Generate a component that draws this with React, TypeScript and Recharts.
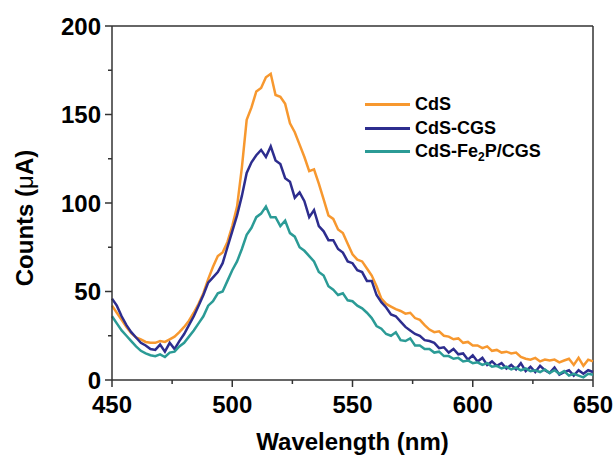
import React from 'react';
import { LineChart, Line, XAxis, YAxis, ReferenceLine, Legend } from 'recharts';

const wavelengths = [
  450, 452, 454, 456, 458, 460, 462, 464, 466, 468, 470, 472, 474, 476, 478, 480, 482, 484, 486, 488,
  490, 492, 494, 496, 498, 500, 502, 504, 506, 508, 510, 512, 514, 516, 518, 520, 522, 524, 526, 528,
  530, 532, 534, 536, 538, 540, 542, 544, 546, 548, 550, 552, 554, 556, 558, 560, 562, 564, 566, 568,
  570, 572, 574, 576, 578, 580, 582, 584, 586, 588, 590, 592, 594, 596, 598, 600, 602, 604, 606, 608,
  610, 612, 614, 616, 618, 620, 622, 624, 626, 628, 630, 632, 634, 636, 638, 640, 642, 644, 646, 648,
  650,
];

const cds = [
  42, 38, 34, 30, 26.5, 24, 23, 21.5, 21, 21, 22, 21.5, 23, 24.5, 27, 30, 33.5, 38, 43, 49,
  57, 64, 70, 72, 78, 87, 98, 120, 147, 154, 163, 165, 171, 173, 161, 160, 156, 145, 140, 133,
  126, 118, 119, 111, 102, 93, 91, 85, 83, 77, 71, 68, 67, 63, 59, 53, 46, 43, 41.5, 40,
  39, 37.5, 38, 35, 34, 31, 28.5, 27, 27.5, 25, 24.5, 23, 23.5, 21, 21.5, 19.5, 19.5, 18, 19, 16.5,
  17, 15.5, 16, 15, 15.5, 13, 12, 11.5, 12.5, 10.5, 11.5, 11, 11.5, 10, 11, 12, 8.5, 12.5, 8, 11.5,
  10.5,
];

const cdsCgs = [
  46, 42, 36, 31, 27, 24, 21, 19.5, 17.5, 17, 20, 16, 21, 17.5, 22, 26, 31, 36, 42, 48,
  55, 58, 61, 66, 75, 84, 93, 104, 117, 123, 127, 130, 126, 132, 124, 122, 114, 112, 103, 106,
  101, 92, 96, 87, 84, 79, 79, 74, 72, 67, 66, 62, 61, 56, 56, 48, 44, 41, 37, 36,
  33, 30, 28, 26, 25, 22.5, 22, 21, 18, 18.5, 15.5, 17.5, 14.5, 15, 11.5, 14, 10.5, 12.5, 8.5, 10.5,
  8, 9.5, 6.5, 8.5, 6, 9.5, 5, 7.5, 4.5, 8, 5.5, 4, 7, 3, 4.5, 5.5, 2.5, 5.5, 3.5, 5.5,
  4.5,
];

const cdsFe2pCgs = [
  36, 32, 28, 25, 22, 19, 16.5, 15, 14, 13.5, 14.5, 13, 15.5, 16, 19, 21, 24.5, 28, 32, 36,
  42, 44.5, 49, 50, 56, 62, 67, 74, 82, 86, 92, 94, 98, 92, 92, 87, 90, 83, 81, 75,
  73, 70, 67, 61, 59, 53, 51, 48, 49, 45, 44.5, 42, 40.5, 38, 35, 30.5, 29, 26, 25, 27,
  22.5, 22, 23.5, 19.5, 19.5, 17.5, 17.5, 15.5, 16, 13.5, 13.5, 12, 12.5, 10.5, 11, 9.5, 10, 8.5, 9.5, 7.5,
  8, 6.5, 7.5, 6, 7, 5.5, 6.5, 5, 5.5, 4.5, 6, 4, 5.5, 3.5, 5, 2.5, 3.5, 2.5, 1.5, 3.5,
  3,
];

const xTicks = [450, 475, 500, 525, 550, 575, 600, 625, 650];
const yTicks = [0, 25, 50, 75, 100, 125, 150, 175, 200];

const seriesNames = ['CdS', 'CdS-CGS', 'CdS-Fe2P/CGS'];
const colors = ['#F7982F', '#2D2D8E', '#2B9B96'];

const data = wavelengths.map((w, i) => ({
  wl: w,
  cds: cds[i],
  cgs: cdsCgs[i],
  fe: cdsFe2pCgs[i],
}));

const FONT = '"Liberation Sans", Arial, Helvetica, sans-serif';
const AXIS = '#333333';

const YTick = (props: any) => {
  const { x, y, payload } = props;
  const v = payload.value;
  const major = v % 50 === 0;
  return (
    <g>
      <line x1={x - (major ? 7 : 4)} y1={y} x2={x} y2={y} stroke={AXIS} strokeWidth={1.5} />
      {major && (
        <text x={x - 11} y={y + 8.6} textAnchor="end" fontSize={24} fontWeight="bold" fill="#000" fontFamily={FONT}>
          {v}
        </text>
      )}
    </g>
  );
};

const XTick = (props: any) => {
  const { x, y, payload } = props;
  const v = payload.value;
  const major = v % 50 === 0;
  return (
    <g>
      <line x1={x} y1={y} x2={x} y2={y + (major ? 7 : 4)} stroke={AXIS} strokeWidth={1.5} />
      {major && (
        <text x={x} y={y + 33} textAnchor="middle" fontSize={24} fontWeight="bold" fill="#000" fontFamily={FONT}>
          {v}
        </text>
      )}
    </g>
  );
};

const XTitle = (props: any) => {
  const vb = props.viewBox || { x: 112, y: 380, width: 481, height: 79 };
  return (
    <text x={vb.x + vb.width / 2} y={vb.y + 70} textAnchor="middle" fontSize={24} fontWeight="bold" fill="#000" fontFamily={FONT}>
      Wavelength (nm)
    </text>
  );
};

const YTitle = (props: any) => {
  const vb = props.viewBox || { x: 0, y: 26, width: 112, height: 354 };
  const cx = vb.x + 33;
  const cy = vb.y + vb.height / 2 + 15;
  return (
    <text
      x={cx}
      y={cy}
      transform={`rotate(-90, ${cx}, ${cy})`}
      textAnchor="middle"
      fontSize={24}
      fontWeight="bold"
      fill="#000"
      fontFamily={FONT}
    >
      Counts (<tspan fontWeight="normal">μ</tspan>A)
    </text>
  );
};

const LegendContent = () => {
  const labels = [
    <span key="a">CdS</span>,
    <span key="b">CdS-CGS</span>,
    <span key="c">
      CdS-Fe<sub style={{ fontSize: 12, verticalAlign: -4, lineHeight: 0 }}>2</sub>P/CGS
    </span>,
  ];
  return (
    <div style={{ fontFamily: FONT, fontWeight: 'bold', fontSize: 18, color: '#000' }}>
      {seriesNames.map((n, i) => (
        <div key={n} style={{ display: 'flex', alignItems: 'center', height: 23.6, whiteSpace: 'nowrap' }}>
          <span style={{ display: 'inline-block', width: 45, height: 3, background: colors[i], marginRight: 5 }} />
          {labels[i]}
        </div>
      ))}
    </div>
  );
};

export default function App() {
  return (
    <div style={{ position: 'absolute', left: 0, top: 0, background: '#fff' }}>
      <LineChart width={614} height={459} data={data} margin={{ top: 26, right: 21, left: 0, bottom: 0 }}>
        <XAxis
          dataKey="wl"
          type="number"
          domain={[450, 650]}
          ticks={xTicks}
          interval={0}
          height={79}
          tickSize={0}
          tickMargin={0}
          tickLine={false}
          tick={<XTick />}
          axisLine={{ stroke: AXIS, strokeWidth: 1.5 }}
          label={<XTitle />}
        />
        <YAxis
          type="number"
          domain={[0, 200]}
          ticks={yTicks}
          interval={0}
          width={112}
          tickSize={0}
          tickMargin={0}
          tickLine={false}
          tick={<YTick />}
          axisLine={{ stroke: AXIS, strokeWidth: 1.5 }}
          label={<YTitle />}
        />
        <ReferenceLine y={200} stroke={AXIS} strokeWidth={1.5} />
        <ReferenceLine x={650} stroke={AXIS} strokeWidth={1.5} />
        <Line type="linear" dataKey="cds" name={seriesNames[0]} stroke={colors[0]} strokeWidth={2.5} dot={false} isAnimationActive={false} />
        <Line type="linear" dataKey="cgs" name={seriesNames[1]} stroke={colors[1]} strokeWidth={2.5} dot={false} isAnimationActive={false} />
        <Line type="linear" dataKey="fe" name={seriesNames[2]} stroke={colors[2]} strokeWidth={2.5} dot={false} isAnimationActive={false} />
        <Legend
          layout="vertical"
          align="center"
          verticalAlign="middle"
          content={<LegendContent />}
          wrapperStyle={{ position: 'absolute', left: 365, top: 92.7, width: 'auto', height: 'auto' }}
        />
      </LineChart>
    </div>
  );
}
